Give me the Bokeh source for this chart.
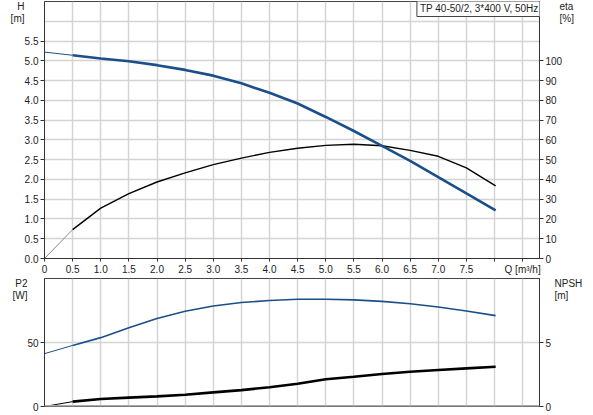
from bokeh.embed import file_html
from bokeh.layouts import column
from bokeh.models import FixedTicker, Grid, Label, LinearAxis, Range1d, Span
from bokeh.plotting import figure
from bokeh.resources import INLINE

# flow [m3/h] and read-off curve values
q = [0, 0.5, 1.0, 1.5, 2.0, 2.5, 3.0, 3.5, 4.0, 4.5, 5.0, 5.5, 6.0, 6.5, 7.0, 7.5, 8.02]
head = [5.22, 5.14, 5.06, 4.99, 4.89, 4.77, 4.625, 4.43, 4.19, 3.92, 3.58, 3.225, 2.85, 2.47, 2.06, 1.65, 1.22]
eta = [0, 14.6, 25.5, 32.8, 38.7, 43.3, 47.5, 50.8, 53.7, 55.8, 57.2, 57.8, 57.0, 54.7, 51.7, 45.8, 36.7]
p2_watt = [41.3, 47.7, 53.8, 61.5, 68.7, 74.4, 78.5, 81.3, 82.8, 83.8, 83.8, 83.3, 82.1, 80.3, 77.7, 74.6, 71.0]
npsh = [0, 0.38, 0.59, 0.69, 0.79, 0.92, 1.1, 1.28, 1.51, 1.78, 2.13, 2.33, 2.54, 2.72, 2.85, 2.98, 3.1]

q_ticks = [0, 0.5, 1.0, 1.5, 2.0, 2.5, 3.0, 3.5, 4.0, 4.5, 5.0, 5.5, 6.0, 6.5, 7.0, 7.5, 8.0, 8.5]
q_labels = ["0", "0.5", "1.0", "1.5", "2.0", "2.5", "3.0", "3.5", "4.0", "4.5", "5.0", "5.5",
            "6.0", "6.5", "7.0", "7.5", "", "Q [m\u00b3/h]"]
h_ticks = [0, 0.5, 1.0, 1.5, 2.0, 2.5, 3.0, 3.5, 4.0, 4.5, 5.0, 5.5]
h_grid = h_ticks + [6.0]
eta_ticks = [0, 10, 20, 30, 40, 50, 60, 70, 80, 90, 100]
p2_ticks = [0, 50]
npsh_ticks = [0, 5]
title_text = "TP 40-50/2, 3*400 V, 50Hz"

BLUE = "#1b4f8a"
FONT = "Liberation Sans"
W = 585
LEFT, RIGHT = 44, 44
FW = W - LEFT - RIGHT
FH1, FH2 = 259, 128


def style_axis(ax):
    ax.axis_line_color = "#333333"
    ax.major_tick_line_color = "#333333"
    ax.major_tick_out = 4
    ax.major_tick_in = 0
    ax.minor_tick_line_color = None
    ax.major_label_standoff = 2
    ax.major_label_text_font = FONT
    ax.major_label_text_font_size = "10px"
    ax.major_label_text_color = "#222222"


def add_grid(fig, dim, ticks):
    g = Grid(dimension=dim, ticker=FixedTicker(ticks=ticks))
    g.grid_line_color = "#d4d4d4"
    g.grid_line_width = 1.5
    fig.add_layout(g, "center")


def unit_labels(fig, side, texts, offsets_px, top, frame_h, standoff, range_name="default"):
    # name/unit captions beside the top of an axis, drawn as an extra tick-less axis
    pos = [round(top - off * top / frame_h, 5) for off in offsets_px]
    ax = LinearAxis(y_range_name=range_name, ticker=FixedTicker(ticks=pos),
                    major_label_overrides=dict(zip(pos, texts)))
    style_axis(ax)
    ax.axis_line_color = None
    ax.major_tick_line_color = None
    ax.major_tick_out = 0
    ax.major_label_standoff = standoff
    fig.add_layout(ax, side)


# ---- upper chart: head and efficiency
p = figure(width=W, height=1 + FH1 + 17, x_range=Range1d(0, 8.8), y_range=Range1d(0, 6.5),
           x_axis_location=None, y_axis_location=None, toolbar_location=None,
           output_backend="svg", min_border_left=LEFT, min_border_right=RIGHT,
           min_border_top=1, min_border_bottom=17)
p.renderers = []
p.center = []
p.outline_line_color = "#444444"
p.extra_y_ranges["eta"] = Range1d(0, 130)

add_grid(p, 0, q_ticks[1:])
add_grid(p, 1, h_grid[1:])

xa = LinearAxis(ticker=FixedTicker(ticks=q_ticks),
                major_label_overrides=dict(zip(q_ticks, q_labels)))
style_axis(xa)
xa.major_tick_out = 3
p.add_layout(xa, "below")

ya = LinearAxis(ticker=FixedTicker(ticks=h_ticks),
                major_label_overrides={t: f"{t:.1f}" for t in h_ticks})
style_axis(ya)
p.add_layout(ya, "left")

ea = LinearAxis(y_range_name="eta", ticker=FixedTicker(ticks=eta_ticks))
style_axis(ea)
p.add_layout(ea, "right")

unit_labels(p, "left", ["H", "[m]"], [4.5, 17], 6.5, FH1, -3)
unit_labels(p, "right", ["eta", "[%]"], [4.5, 17], 130, FH1, -6, "eta")

p.line(q[:2], eta[:2], y_range_name="eta", line_color="#888888", line_width=1)
p.line(q[1:], eta[1:], y_range_name="eta", line_color="black", line_width=1.4)
p.line(q[:2], head[:2], line_color=BLUE, line_width=1)
p.line(q[1:], head[1:], line_color=BLUE, line_width=2.6)

p.add_layout(Label(x=FW, y=FH1, x_units="screen", y_units="screen", text=title_text,
                   text_font=FONT, text_font_size="10px", text_color="#222222",
                   text_align="right", text_baseline="top", padding=3,
                   border_line_color="#444444", background_fill_color="white"))

# ---- lower chart: power and NPSH
p2 = figure(width=W, height=1 + FH2 + 6, x_range=p.x_range, y_range=Range1d(0, 100),
            x_axis_location=None, y_axis_location=None, toolbar_location=None,
            output_backend="svg", min_border_left=LEFT, min_border_right=RIGHT,
            min_border_top=1, min_border_bottom=6)
p2.renderers = []
p2.center = []
p2.outline_line_color = "#444444"
p2.extra_y_ranges["npsh"] = Range1d(0, 10)

add_grid(p2, 0, q_ticks[1:])
add_grid(p2, 1, p2_ticks[1:])

la = LinearAxis(ticker=FixedTicker(ticks=p2_ticks))
style_axis(la)
p2.add_layout(la, "left")
ra = LinearAxis(y_range_name="npsh", ticker=FixedTicker(ticks=npsh_ticks))
style_axis(ra)
p2.add_layout(ra, "right")

unit_labels(p2, "left", ["P2", "[W]"], [5, 17], 100, FH2, -3)
unit_labels(p2, "right", ["NPSH", "[m]"], [5, 17], 10, FH2, 0, "npsh")

p2.add_layout(Span(location=0, dimension="width", line_color="#aaaaaa", line_width=3))

p2.line(q[:2], p2_watt[:2], line_color=BLUE, line_width=1)
p2.line(q[1:], p2_watt[1:], line_color=BLUE, line_width=1.6)
p2.line(q[:2], npsh[:2], y_range_name="npsh", line_color="black", line_width=1)
p2.line(q[1:], npsh[1:], y_range_name="npsh", line_color="black", line_width=2.6)

layout = column(p, p2)
open("out.html", "w").write(file_html(layout, INLINE))
